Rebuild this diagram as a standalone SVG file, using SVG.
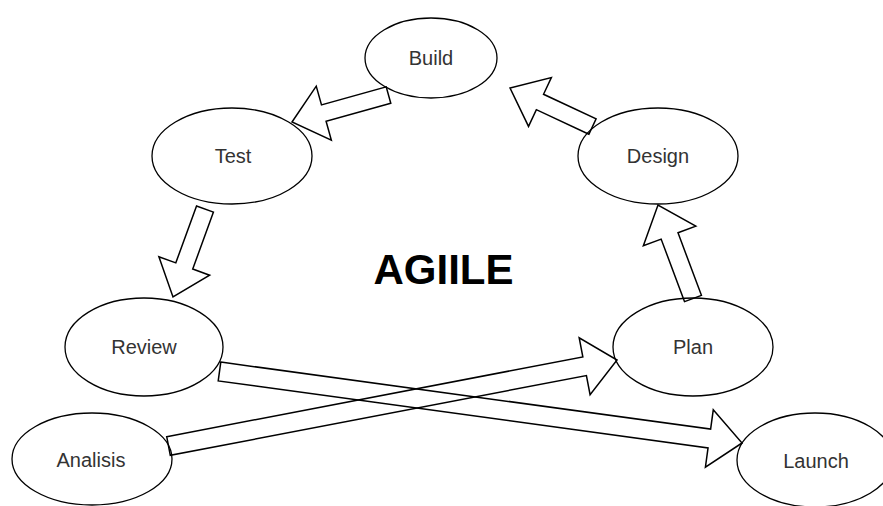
<svg xmlns="http://www.w3.org/2000/svg" width="883" height="506" viewBox="0 0 883 506">
<style>
.node ellipse{fill:#fff;stroke:#000;stroke-width:1.3}
.node text{font-family:"Liberation Sans",Arial,sans-serif;font-size:20px;fill:#333;text-anchor:middle}
.arrow{fill:none;stroke:#000;stroke-width:1.5;stroke-linejoin:miter}
.title{font-family:"Liberation Sans",Arial,sans-serif;font-size:42px;font-weight:bold;fill:#000;text-anchor:middle}
</style>
<rect width="883" height="506" fill="#fff"/>
<g id="build" class="node"><ellipse cx="431" cy="58" rx="66" ry="40"/><text x="431" y="65">Build</text></g>
<g id="test" class="node"><ellipse cx="232" cy="156" rx="80" ry="48"/><text x="233" y="163">Test</text></g>
<g id="design" class="node"><ellipse cx="658" cy="156" rx="80" ry="48"/><text x="658" y="163">Design</text></g>
<g id="review" class="node"><ellipse cx="144" cy="347" rx="79" ry="49"/><text x="144" y="354">Review</text></g>
<g id="plan" class="node"><ellipse cx="693" cy="347" rx="80" ry="49"/><text x="693" y="354">Plan</text></g>
<g id="analisis" class="node"><ellipse cx="92" cy="459" rx="80" ry="46"/><text x="91" y="467">Analisis</text></g>
<g id="launch" class="node"><ellipse cx="815" cy="460" rx="78" ry="47"/><text x="816" y="468">Launch</text></g>
<text id="agiile" class="title" x="443.5" y="284">AGIILE</text>
<g id="connectors">
<g transform="translate(388.5,95) rotate(164.37)"><polygon class="arrow" points="0,-8.5 67.2,-8.5 67.2,-28 100.2,0 67.2,28 67.2,8.5 0,8.5"/></g>
<g transform="translate(205,209) rotate(110)"><polygon class="arrow" points="0,-9 60.6,-9 60.6,-27 93.6,0 60.6,27 60.6,9 0,9"/></g>
<g transform="translate(693,298.5) rotate(-110.53)"><polygon class="arrow" points="0,-9 66.8,-9 66.8,-28 99.8,0 66.8,28 66.8,9 0,9"/></g>
<g transform="translate(592.5,126.5) rotate(-154.98)"><polygon class="arrow" points="0,-8.5 58,-8.5 58,-27 91,0 58,27 58,8.5 0,8.5"/></g>
<g transform="translate(219.5,371.5) rotate(7.79)"><polygon class="arrow" points="0,-9.5 494.4,-9.5 494.4,-29 527.4,0 494.4,29 494.4,9.5 0,9.5"/></g>
<g transform="translate(168.5,446) rotate(-10.85)"><polygon class="arrow" points="0,-9.5 423.7,-9.5 423.7,-29 456.7,0 423.7,29 423.7,9.5 0,9.5"/></g>
</g>
</svg>
